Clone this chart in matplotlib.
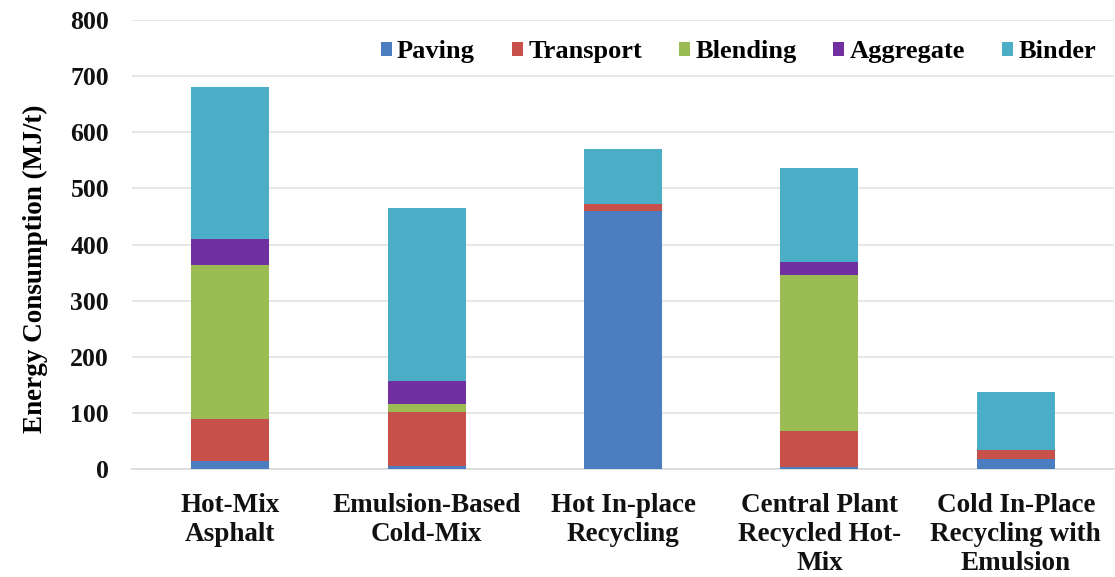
import matplotlib.pyplot as plt
import numpy as np

# カテゴリ
categories = ['Hot-Mix\nAsphalt', 'Emulsion-Based\nCold-Mix', 'Hot In-place\nRecycling',
              'Central Plant\nRecycled Hot-\nMix', 'Cold In-Place\nRecycling with\nEmulsion']

# 各工程のエネルギー (MJ/t)
paving = [14, 5, 459, 3, 18]
transport = [75, 96, 13, 65, 16]
blending = [275, 15, 0, 277, 0]
aggregate = [45, 41, 0, 23, 0]
binder = [272, 308, 99, 168, 104]

series_names = ['Paving', 'Transport', 'Blending', 'Aggregate', 'Binder']
series_values = [paving, transport, blending, aggregate, binder]
colors = ['#4A7EC0', '#C8504B', '#9BBB53', '#7030A0', '#4BADC6']

plt.rcParams['font.family'] = ['Liberation Serif', 'DejaVu Serif']
plt.rcParams['font.weight'] = 'bold'

fig = plt.figure(figsize=(11.15, 5.77), dpi=100)
ax = fig.add_axes([0.1184, 0.1872, 0.8807, 0.778])

x = np.arange(len(categories))
bottom = np.zeros(len(categories))
for name, vals, c in zip(series_names, series_values, colors):
    ax.bar(x, vals, width=0.397, bottom=bottom, color=c, label=name, zorder=3)
    bottom += np.array(vals)

ax.set_xlim(-0.5, len(categories) - 0.5)
ax.set_ylim(0, 800)
ax.set_yticks(np.arange(0, 801, 100))
ax.grid(axis='y', color='#E3E3E3', linewidth=1.2, zorder=0)
for s in ['top', 'right', 'left']:
    ax.spines[s].set_visible(False)
ax.spines['bottom'].set_color('#D9D9D9')
ax.spines['bottom'].set_linewidth(1.2)
ax.tick_params(axis='both', length=0, colors='#111111')
ax.tick_params(axis='y', labelsize=18.5, pad=16.5)
ax.tick_params(axis='x', labelsize=19.5, pad=17.5)
ax.set_xticks(x)
ax.set_xticklabels(categories, linespacing=1.2)
ax.set_ylabel('Energy Consumption (MJ/t)', fontsize=19.5, fontweight='bold')
ax.yaxis.set_label_coords(-0.086, 0.445)

leg = ax.legend(loc='upper right', bbox_to_anchor=(1.006, 1.008), ncol=5, frameon=False,
                fontsize=19, handlelength=0.42, handleheight=0.42, handletextpad=0.2,
                columnspacing=1.4)

fig.savefig('out.png', dpi=100)
